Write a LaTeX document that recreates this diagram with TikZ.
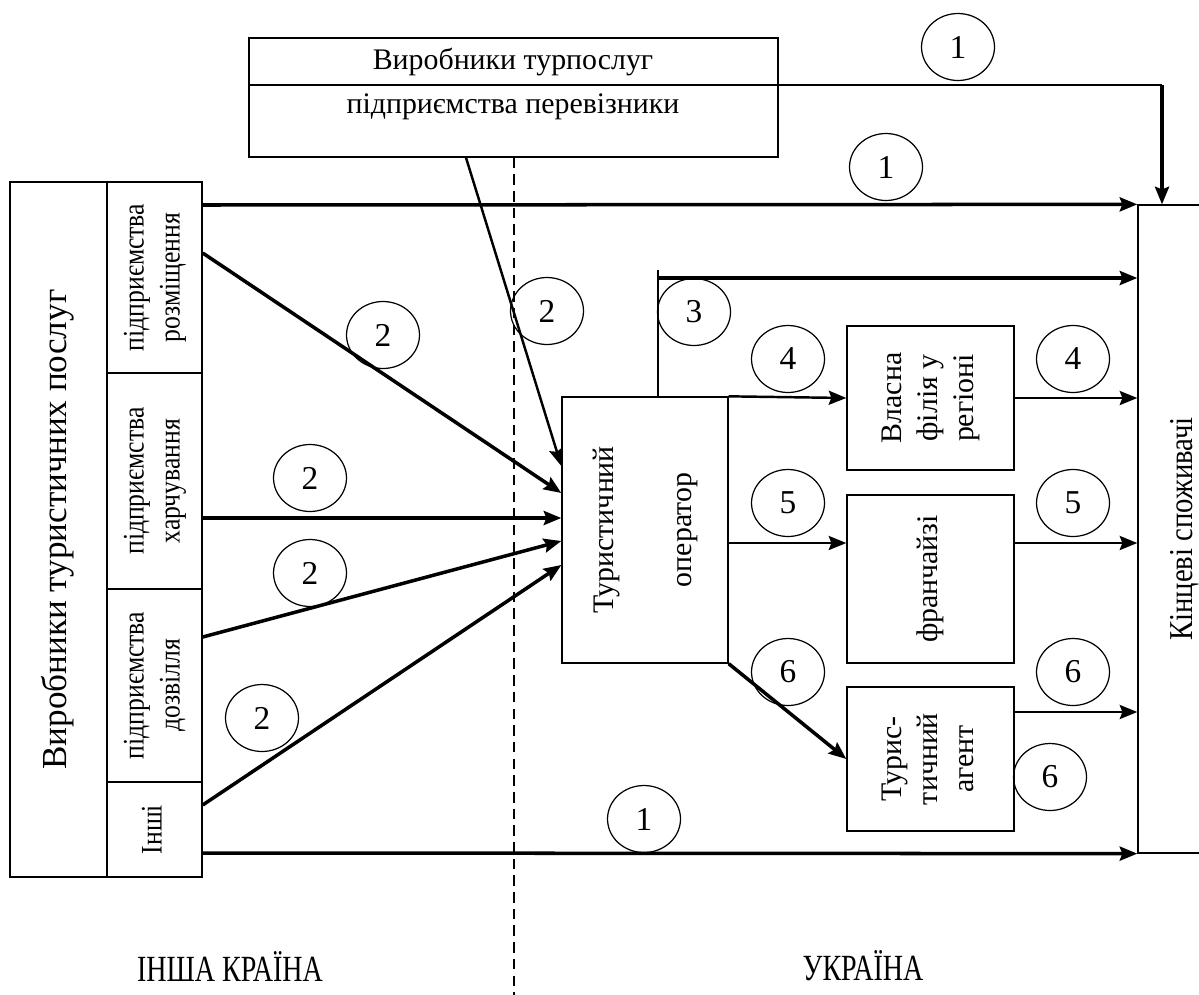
\documentclass[tikz,border=0pt]{standalone}
\usepackage{fontspec}
\setmainfont{LiberationSerif}[Extension = .ttf, UprightFont = *-Regular, BoldFont = *-Bold, ItalicFont = *-Italic, BoldItalicFont = *-BoldItalic]
\newfontfamily\narrowfont{LiberationSerif}[Extension = .ttf, UprightFont = *-Regular, FakeStretch = 0.76]
\newfontfamily\midfont{LiberationSerif}[Extension = .ttf, UprightFont = *-Regular, FakeStretch = 0.86]
\usepackage{graphicx}
\usetikzlibrary{shapes.geometric, arrows.meta}

\newcommand{\vlabel}[1]{\rotatebox{90}{\begin{tabular}{@{}c@{}}#1\end{tabular}}}

\tikzstyle{box} = [rectangle, draw = black, line width = 0.8pt, inner sep = 0pt, text centered, font = \fontsize{17}{20.5}\selectfont]
\tikzstyle{num} = [ellipse, draw = black, line width = 0.7pt, minimum width = 1.46cm, minimum height = 1.34cm, inner sep = 0pt, font = \fontsize{19}{19}\selectfont]
\tikzstyle{flow} = [line width = 2pt, -{Stealth[length = 10pt, width = 8pt, inset = 1.5pt]}]
\tikzstyle{link} = [line width = 1.4pt, -{Stealth[length = 10pt, width = 8pt, inset = 1.5pt]}]
\tikzstyle{border} = [line width = 1.3pt, dashed, dash pattern = on 6pt off 3.5pt]
\tikzstyle{country} = [font = \fontsize{21}{21}\narrowfont]

\begin{document}
\begin{tikzpicture}[x = 0.02cm, y = -0.02cm]
	\clip (0,0) rectangle (1199,994);

	% producers abroad
	\node (src)[box, minimum width = 1.94cm, minimum height = 13.9cm] at (58.5,529.5) {\fontsize{20}{24}\selectfont\vlabel{Виробники туристичних послуг}};
	\node (rozm)[box, minimum width = 1.9cm, minimum height = 3.82cm] at (154.5,277.5) {\midfont\vlabel{підприємства\\розміщення}};
	\node (harch)[box, minimum width = 1.9cm, minimum height = 4.32cm] at (154.5,481) {\midfont\vlabel{підприємства\\харчування}};
	\node (dozv)[box, minimum width = 1.9cm, minimum height = 3.86cm] at (154.5,685.5) {\midfont\vlabel{підприємства\\дозвілля}};
	\node (inshi)[box, minimum width = 1.9cm, minimum height = 1.9cm] at (154.5,829.5) {\midfont\vlabel{Інші}};

	% carriers
	\node (prod)[box, minimum width = 10.58cm, minimum height = 2.38cm] at (513.5,97.5) {};
	\node (prodtop) at (513,62) {\fontsize{17}{20}\selectfont Виробники турпослуг};
	\node (prodbot) at (513,107) {\fontsize{17}{20}\selectfont підприємства перевізники};
	\draw [line width = 0.8pt] (prod.west |- 0,85) -- (prod.east |- 0,85);

	% ukraine side
	\node (oper)[box, minimum width = 3.32cm, minimum height = 5.32cm] at (645,530) {\vlabel{Туристичний\\[24pt]оператор}};
	\node (branch)[box, minimum width = 3.34cm, minimum height = 2.88cm] at (930.5,398) {\vlabel{Власна\\філія у\\регіоні}};
	\node (franch)[box, minimum width = 3.34cm, minimum height = 3.36cm] at (930.5,579) {\vlabel{франчайзі}};
	\node (agent)[box, minimum width = 3.34cm, minimum height = 2.88cm] at (930.5,759) {\vlabel{Турис-\\тичний\\агент}};
	\node (cons)[box, minimum width = 1.88cm, minimum height = 12.96cm] at (1185,529) {\midfont\fontsize{19}{22}\selectfont\vlabel{Кінцеві споживачі}};

	\node (abroad)[country] at (230,966) {ІНША КРАЇНА};
	\node (ukr)[country] at (863,966) {УКРАЇНА};

	% border line
	\draw [border] (prod.south -| 514,0) -- (514,1000);

	% channel 1
	\coordinate (c1) at (1162,85);
	\draw [line width = 1pt] (prod.east |- 0,85) -- (c1);
	\draw [flow] (c1) -- (c1 |- cons.north);
	\draw [flow] (rozm.east |- 0,205) -- (cons.north west);
	\draw [flow] (inshi.east |- 0,853) -- (cons.south west);

	% channel 2
	\draw [flow] (rozm.east |- 0,253) -- (oper.west |- 0,493);
	\draw [flow] (harch.east |- 0,518) -- (oper.west |- 0,518);
	\draw [flow] (dozv.east |- 0,637) -- (oper.west |- 0,541);
	\draw [flow] (inshi.east |- 0,805) -- (oper.west |- 0,565);
	\draw [link] (prod.south -| 466,0) -- (oper.west |- 0,466);

	% channel 3
	\coordinate (c3top) at (658,270);
	\coordinate (c3) at (658,278);
	\draw [line width = 0.8pt] (oper.north -| c3top) -- (c3top);
	\draw [flow] (c3) -- (cons.west |- c3);

	% channels 4-6
	\draw [link] (oper.north east) -- (branch.west);
	\draw [link] (branch.east) -- (cons.west |- branch.east);
	\draw [link] (oper.east |- 0,543) -- (franch.west |- 0,543);
	\draw [link] (franch.east |- 0,543) -- (cons.west |- 0,543);
	\draw [flow] (oper.south east) -- (agent.west);
	\draw [link] (agent.east |- 0,712) -- (cons.west |- 0,712);

	% channel numbers
	\node (n1a)[num] at (958,47) {1};
	\node (n1b)[num] at (886,167) {1};
	\node (n1c)[num] at (644,819) {1};
	\node (n2a)[num] at (383,335) {2};
	\node (n2b)[num] at (547,311) {2};
	\node (n2c)[num] at (310,478) {2};
	\node (n2d)[num] at (310,573) {2};
	\node (n2e)[num] at (262,718) {2};
	\node (n3)[num] at (694,312) {3};
	\node (n4a)[num] at (788,359) {4};
	\node (n4b)[num] at (1073,359) {4};
	\node (n5a)[num] at (788,503) {5};
	\node (n5b)[num] at (1073,503) {5};
	\node (n6a)[num] at (788,672) {6};
	\node (n6b)[num] at (1073,672) {6};
	\node (n6c)[num] at (1050,777) {6};
\end{tikzpicture}
\end{document}
